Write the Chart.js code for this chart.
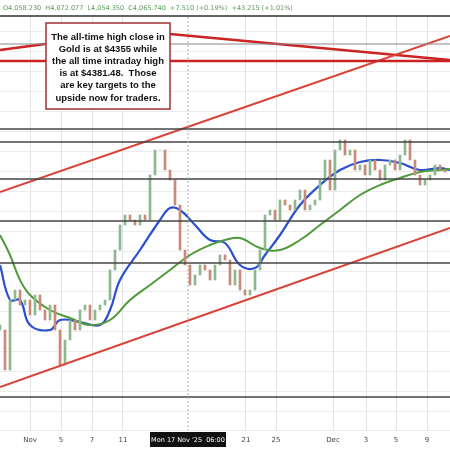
<!DOCTYPE html>
<html><head><meta charset="utf-8">
<script src="https://cdn.jsdelivr.net/npm/chart.js@4"></script>
<style>html,body{margin:0;padding:0;background:#fff}#w{width:450px;height:450px;position:relative}</style>
</head><body><div id="w"><canvas id="c"></canvas></div>
<script>
// x in bar-position units (0..450), y in price
const closeX = [0,5,10,15,20,25,30,35,40,45,50,55,60,65,70,75,80,85,90,95,100,105,110,115,120,125,130,135,140,145,150,155,160,165,170,175,180,185,190,195,200,205,210,215,220,225,230,235,240,245,250,255,260,265,270,275,280,285,290,295,300,305,310,315,320,325,330,335,340,345,350,355,360,365,370,375,380,385,390,395,400,405,410,415,420,425,430,435,440,445];
const closes = [3843,3763,3903,3923,3893,3903,3873,3913,3883,3863,3893,3843,3773,3823,3863,3843,3883,3893,3863,3883,3893,3903,3963,4003,4053,4073,4063,4053,4073,4063,4153,4203,4203,4163,4143,4093,4003,3973,3933,3953,3973,3963,3943,3973,3993,3983,3933,3963,3923,3913,3923,3963,4003,4073,4083,4063,4103,4093,4083,4103,4123,4083,4093,4103,4143,4183,4123,4203,4223,4193,4203,4163,4173,4153,4183,4163,4143,4173,4183,4163,4193,4223,4183,4153,4133,4143,4153,4173,4163,4159];
const maX = [0,10,20,30,50,60,80,100,110,120,140,160,170,180,195,210,225,240,255,265,280,300,320,340,360,380,400,420,440,450];
const blueMA = [3973,3903,3903,3853,3843,3863,3859,3853,3883,3943,4003,4063,4087,4083,4053,4023,4017,3973,3967,3993,4033,4093,4133,4163,4179,4183,4177,4163,4167,4163];
const greenX = [0,10,20,30,50,70,90,110,130,150,170,190,210,225,240,260,280,300,320,340,360,380,400,420,440,450];
const greenMA = [4033,3993,3943,3913,3883,3867,3853,3863,3903,3933,3963,3993,4013,4023,4027,4007,4003,4023,4053,4083,4113,4133,4147,4159,4163,4165];
const levelsBlack = [4245,4219,4145,4061,3977,3709];
const levelTop = 4471, levelGray = 4415, levelRed = 4381;
const trendLower = [[0,3729],[450,4047]];
const trendUpper = [[0,4119],[450,4431]];
const trendTopA = [[0,4403],[45,4415]];
const trendTopB = [[170,4435],[450,4383]];
const tickX = [30,61,92,123,246,276,333,366,396,427];
const tickLabels = ['Nov','5','7','11','21','25','Dec','3','5','9'];

const bodies = closes.map((c,i)=>({x:closeX[i], y:[i?closes[i-1]:c+10, c]}));
const bodyColors = closes.map((c,i)=> (i && c<closes[i-1]) ? '#c98a7a' : '#8fb88f');
const pts=(xs,ys)=>xs.map((x,i)=>({x,y:ys[i]}));
const seg=(a)=>a.map(p=>({x:p[0],y:p[1]}));
const hl=(v)=>[{x:0,y:v},{x:450,y:v}];
const lineDS=(data,color,w)=>({type:'line',data,borderColor:color,borderWidth:w,pointRadius:0,fill:false,tension:0.4});

const ds=[];
levelsBlack.forEach(v=>ds.push(lineDS(hl(v),'#444',1.3)));
ds.push(lineDS(hl(levelTop),'#333',1.2));
ds.push(lineDS(hl(levelGray),'#888',1.2));
ds.push(lineDS(hl(levelRed),'#cc2222',2.5));
ds.push(lineDS(seg(trendLower),'#d9433a',2));
ds.push(lineDS(seg(trendUpper),'#d9433a',2));
ds.push(lineDS(seg(trendTopA),'#cc2222',2.5));
ds.push(lineDS(seg(trendTopB),'#cc2222',2.5));
ds.push({type:'bar',data:bodies,backgroundColor:bodyColors,barThickness:2});
ds.push(lineDS(pts(greenX,greenMA),'#4f9a3a',2));
ds.push(lineDS(pts(maX,blueMA),'#2a4fd0',2.2));

const overlay={id:'ov',afterDraw(ch){
  const g=ch.ctx, xs=ch.scales.x;
  g.save();g.strokeStyle='#aaa';g.setLineDash([2,2]);g.lineWidth=1;
  const cx=xs.getPixelForValue(188);g.beginPath();g.moveTo(cx,17);g.lineTo(cx,430);g.stroke();g.restore();
  g.save();g.fillStyle='#fff';g.fillRect(0,0,450,15);
  g.font='6.5px "DejaVu Sans"';g.fillStyle='#5a9a5a';g.textBaseline='middle';
  g.fillText('O4,058.230  H4,072.077  L4,054.350  C4,065.740  +7.510 (+0.19%)  +43.215 (+1.01%)',3,8);
  g.strokeStyle='#333';g.lineWidth=1.2;g.beginPath();g.moveTo(0,16);g.lineTo(450,16);g.stroke();
  g.fillStyle='#fff';g.fillRect(46,23,124,86);g.strokeStyle='#a03030';g.lineWidth=1.5;g.strokeRect(46,23,124,86);
  g.fillStyle='#111';g.font='bold 9.5px "Liberation Sans"';g.textAlign='center';
  ['The all-time high close in','Gold is at $4355 while','the all time intraday high','is at $4381.48.  Those','are key targets to the','upside now for traders.'].forEach((t,i)=>g.fillText(t,108,37+i*12.2));
  g.font='7px "DejaVu Sans"';g.fillStyle='#444';
  tickX.forEach((x,i)=>g.fillText(tickLabels[i],xs.getPixelForValue(x),440));
  g.fillStyle='#111';g.fillRect(150,432,76,15);g.fillStyle='#fff';g.font='6.5px "DejaVu Sans"';
  g.fillText("Mon 17 Nov '25  06:00",188,440);
  g.restore();
}};

new Chart(document.getElementById('c'),{
  data:{datasets:ds},
  options:{responsive:true,maintainAspectRatio:false,animation:false,
    layout:{padding:{left:0,right:0,top:0,bottom:20}},
    plugins:{legend:{display:false},tooltip:{enabled:false}},
    scales:{
      x:{type:'linear',min:0,max:450,offset:false,display:true,border:{display:false},
        afterBuildTicks:(s)=>{s.ticks=tickX.map(v=>({value:v}));},
        afterFit:(s)=>{s.height=0;},
        ticks:{display:false},grid:{color:'#e4e4e4',drawTicks:false,offset:false}},
      y:{min:3643,max:4503,display:true,border:{display:false},afterFit:(s)=>{s.width=0;},ticks:{display:false,stepSize:40},grid:{color:'#ececec',drawTicks:false}}
    }},
  plugins:[overlay]
});
</script></body></html>
